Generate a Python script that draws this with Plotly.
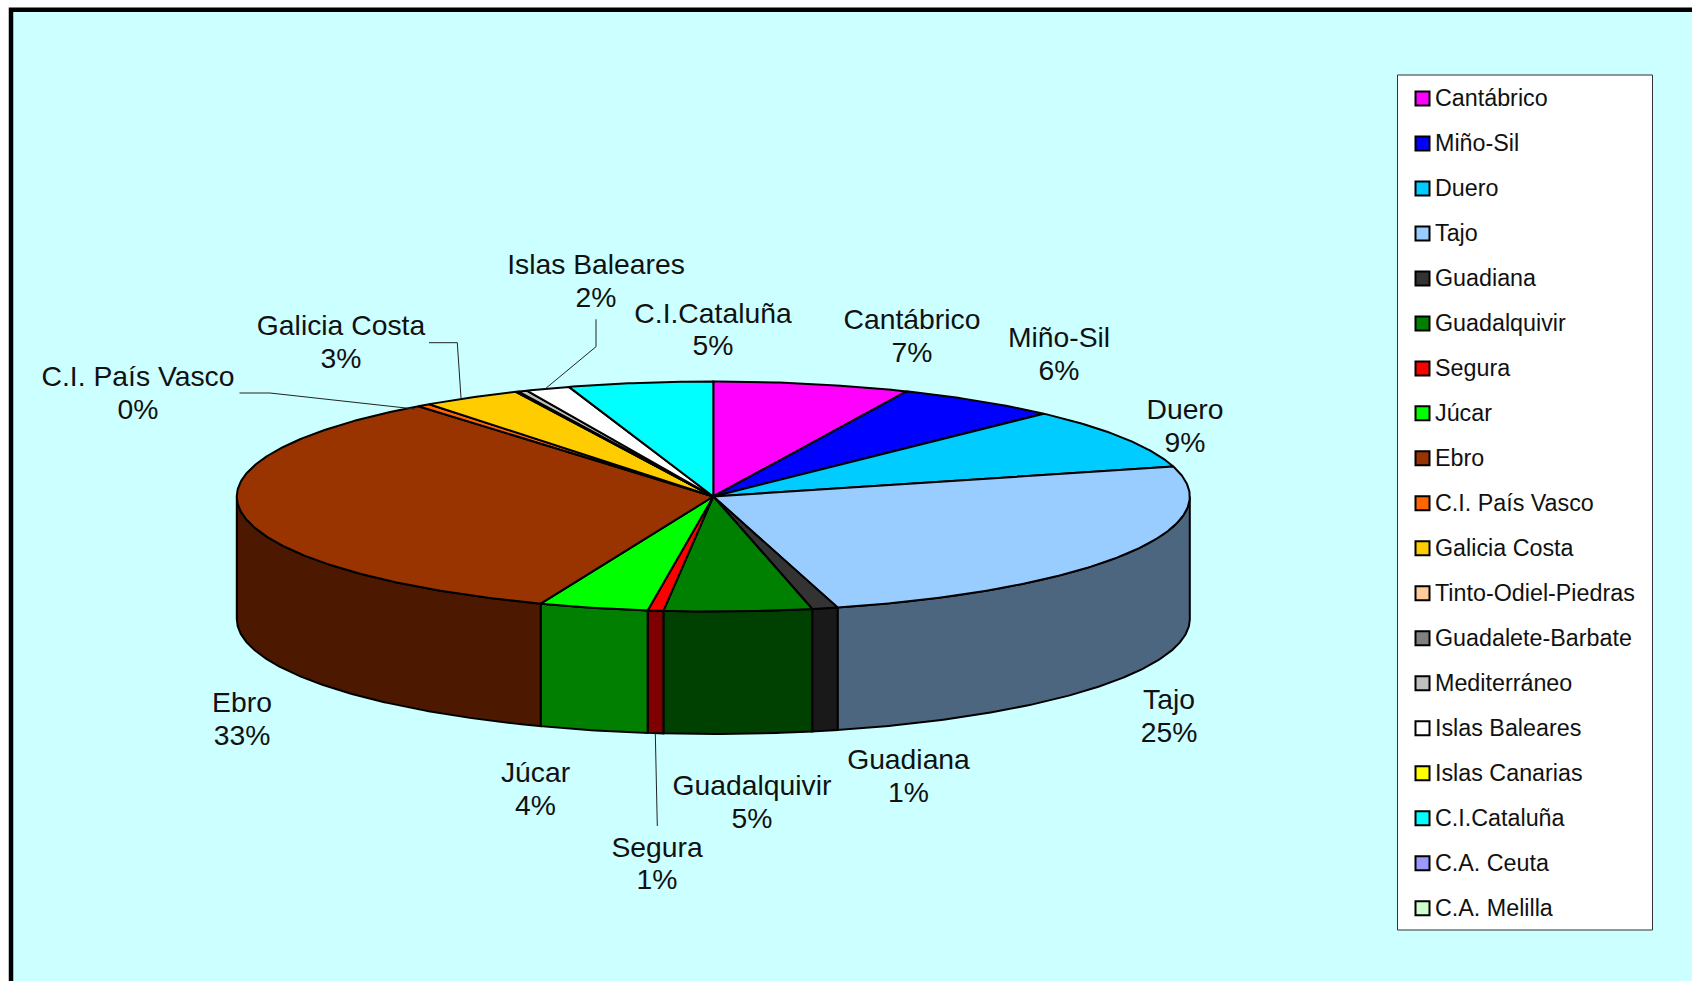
import math
import plotly.graph_objects as go

# ---- data -------------------------------------------------------------
names = ["Cantábrico", "Miño-Sil", "Duero", "Tajo", "Guadiana", "Guadalquivir", "Segura",
         "Júcar", "Ebro", "C.I. País Vasco", "Galicia Costa", "Tinto-Odiel-Piedras",
         "Guadalete-Barbate", "Mediterráneo", "Islas Baleares", "Islas Canarias",
         "C.I.Cataluña", "C.A. Ceuta", "C.A. Melilla"]
values = [6.65, 5.55, 8.6, 25.0, 0.87, 5.0, 0.53, 3.7, 33.48, 0.45, 3.37,
          0.05, 0.05, 0.3, 1.5, 0.0, 4.9, 0.0, 0.0]
colors = ["#FF00FF", "#0000FF", "#00CCFF", "#99CCFF", "#333333", "#008000", "#FF0000",
          "#00FF00", "#993300", "#FF6600", "#FFCC00", "#FFCC99", "#808080", "#C0C0C0",
          "#FFFFFF", "#FFFF00", "#00FFFF", "#9999FF", "#CCFFCC"]
pct_labels = ["7%", "6%", "9%", "25%", "1%", "5%", "1%", "4%", "33%", "0%", "3%",
              "0%", "0%", "0%", "2%", "0%", "5%", "0%", "0%"]

# ---- layout constants (pixels) -------------------------------------------
W, H = 1692, 981
CX, CY, RX, RY, DEPTH = 713.3, 496.5, 476.5, 115, 122.5
BG = "#CCFFFF"
FONT = "Liberation Sans"
label_pos = {
    "Cantábrico": (912, 336), "Miño-Sil": (1059, 354), "Duero": (1185, 426),
    "Tajo": (1169, 716), "Guadiana": (908.5, 776), "Guadalquivir": (752, 802),
    "Segura": (657, 863.5), "Júcar": (535.5, 789), "Ebro": (242, 719),
    "C.I. País Vasco": (138, 393), "Galicia Costa": (341, 342),
    "Islas Baleares": (596, 281), "C.I.Cataluña": (713, 329.5),
}
leaders = [
    [(239.5, 393), (270, 393), (415, 409)],
    [(429, 342.7), (457.3, 342.7), (461, 398)],
    [(596, 319.3), (596, 346.7), (545, 389)],
    [(655.3, 733), (657.3, 826)],
]
LINE_GAP = 32.4
TEXT_SHIFT = 2.4
LEG_X, LEG_Y0, LEG_DY = 1422.5, 98.5, 44.98


def pt(theta_deg, drop=0.0):
    t = math.radians(theta_deg)
    return CX + RX * math.sin(t), CY - RY * math.cos(t) + drop


def arc(a, b, drop=0.0):
    n = max(2, int(abs(b - a) * 2) + 2)
    return [pt(a + (b - a) * i / (n - 1), drop) for i in range(n)]


def halve(c):
    return "#%02X%02X%02X" % tuple(int(c[i:i + 2], 16) // 2 for i in (1, 3, 5))


fig = go.Figure()
total = sum(values)
spans, acc = [], 0.0
for v in values:
    spans.append((acc / total * 360, (acc + v) / total * 360))
    acc += v

# side wall of the disc: only the front half (90..270 degrees) is visible
for (a, b), c, v in zip(spans, colors, values):
    lo, hi = max(a, 90), min(b, 270)
    if v <= 0 or lo >= hi:
        continue
    p = arc(lo, hi) + arc(hi, lo, DEPTH)
    p.append(p[0])
    fig.add_trace(go.Scatter(x=[q[0] for q in p], y=[q[1] for q in p], mode="lines",
                             fill="toself", fillcolor=halve(c),
                             line=dict(color="black", width=2), hoverinfo="skip"))

# top face
for (a, b), c, v, n in zip(spans, colors, values, names):
    if v <= 0:
        continue
    p = [(CX, CY)] + arc(a, b) + [(CX, CY)]
    fig.add_trace(go.Scatter(x=[q[0] for q in p], y=[q[1] for q in p], mode="lines",
                             fill="toself", fillcolor=c, name=n,
                             line=dict(color="black", width=2), hoverinfo="name"))

# leader lines
for seg in leaders:
    fig.add_trace(go.Scatter(x=[q[0] for q in seg], y=[q[1] for q in seg], mode="lines",
                             line=dict(color="#222222", width=1), hoverinfo="skip"))

# data labels (name line and percentage line)
lab = [n for n in names if n in label_pos]
pct = dict(zip(names, pct_labels))
tfont = dict(family=FONT, size=28.3, color="#111111")
fig.add_trace(go.Scatter(x=[label_pos[n][0] for n in lab],
                         y=[label_pos[n][1] - LINE_GAP / 2 + TEXT_SHIFT for n in lab],
                         text=lab, mode="text", textfont=tfont,
                         textposition="middle center", hoverinfo="skip"))
fig.add_trace(go.Scatter(x=[label_pos[n][0] for n in lab],
                         y=[label_pos[n][1] + LINE_GAP / 2 + TEXT_SHIFT for n in lab],
                         text=[pct[n] for n in lab], mode="text", textfont=tfont,
                         textposition="middle center", hoverinfo="skip"))

# legend
ys = [LEG_Y0 + i * LEG_DY for i in range(len(names))]
fig.add_trace(go.Scatter(x=[LEG_X] * len(names), y=ys, mode="markers",
                         marker=dict(symbol="square", size=14, color=colors,
                                     line=dict(color="black", width=2)),
                         text=names, hoverinfo="text"))
fig.add_trace(go.Scatter(x=[1435] * len(names), y=[y + 1.6 for y in ys], mode="text", text=names,
                         textposition="middle right",
                         textfont=dict(family=FONT, size=23.3, color="#111111"),
                         hoverinfo="skip"))

fig.update_layout(
    width=W, height=H, margin=dict(l=0, r=0, t=0, b=0), showlegend=False,
    paper_bgcolor="white", plot_bgcolor="white",
    xaxis=dict(range=[0, W], visible=False, fixedrange=True),
    yaxis=dict(range=[H, 0], visible=False, fixedrange=True),
    shapes=[
        dict(type="rect", xref="x", yref="y", x0=11, y0=9.7, x1=W + 20, y1=H + 20,
             fillcolor=BG, line=dict(color="black", width=4.5), layer="below"),
        dict(type="rect", xref="x", yref="y", x0=1397.5, y0=75, x1=1652.5, y1=930,
             fillcolor="white", line=dict(color="#333333", width=1), layer="below"),
    ],
)
fig.write_html("out.html", config=dict(displayModeBar=False),
               post_script="document.body.style.margin='0';document.body.style.overflow='hidden';")
